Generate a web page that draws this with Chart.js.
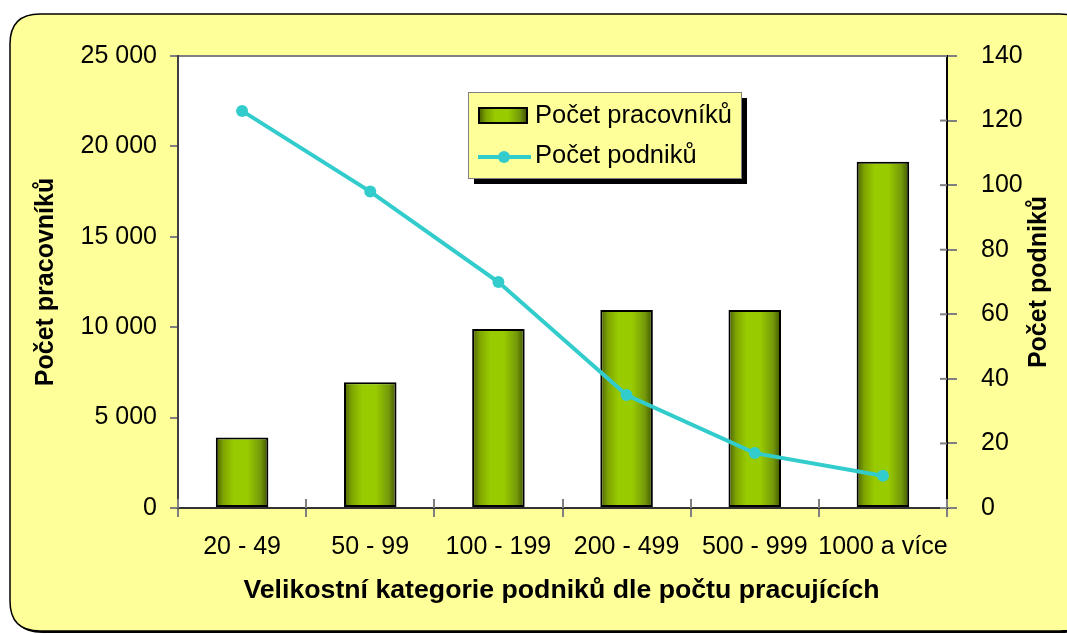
<!DOCTYPE html>
<html>
<head>
<meta charset="utf-8">
<script src="https://cdn.jsdelivr.net/npm/chart.js@4/dist/chart.umd.min.js"></script>
<style>
  html, body { margin: 0; padding: 0; background: #fff; }
  #wrap { width: 1067px; height: 634px; position: relative; }
</style>
</head>
<body>
<div id="wrap"><canvas id="sizeChart"></canvas></div>
<script>
const categories = ['20 - 49', '50 - 99', '100 - 199', '200 - 499', '500 - 999', '1000 a více'];
const workers = [3900, 6950, 9900, 10950, 10950, 19150];
const companies = [123, 98, 70, 35, 17, 10];
const workerTicks = [0, 5000, 10000, 15000, 20000, 25000];
const companyTicks = [0, 20, 40, 60, 80, 100, 120, 140];

const FONT = '"Liberation Sans", Arial, sans-serif';
const barPct = 0.41;
const lineColor = '#33CCCC';

const fmt = v => String(v).replace(/\B(?=(\d{3})+(?!\d))/g, ' ');

function barGradient(c, x0, x1) {
  const g = c.createLinearGradient(x0, 0, x1, 0);
  g.addColorStop(0, '#4a5f00');
  g.addColorStop(0.15, '#7fa600');
  g.addColorStop(0.35, '#99cc00');
  g.addColorStop(0.6, '#99cc00');
  g.addColorStop(0.85, '#74990a');
  g.addColorStop(1, '#3f5200');
  return g;
}

function roundRect(c, x, y, w, h, r) {
  c.beginPath();
  c.moveTo(x + r, y);
  c.lineTo(x + w - r, y);
  c.quadraticCurveTo(x + w, y, x + w, y + r);
  c.lineTo(x + w, y + h - r);
  c.quadraticCurveTo(x + w, y + h, x + w - r, y + h);
  c.lineTo(x + r, y + h);
  c.quadraticCurveTo(x, y + h, x, y + h - r);
  c.lineTo(x, y + r);
  c.quadraticCurveTo(x, y, x + r, y);
  c.closePath();
}

// yellow panel + white plot area
const backdrop = {
  id: 'backdrop',
  beforeDraw(chart) {
    const c = chart.ctx, a = chart.chartArea;
    c.save();
    c.fillStyle = '#000';
    roundRect(c, 12, 16, 1080, 617, 30);
    c.fill();
    c.fillStyle = '#FFFF99';
    c.strokeStyle = '#000';
    c.lineWidth = 1.5;
    roundRect(c, 10, 14, 1080, 617, 30);
    c.fill();
    c.stroke();
    c.fillStyle = '#fff';
    c.fillRect(a.left, a.top, a.right - a.left, a.bottom - a.top);
    c.strokeStyle = '#808080';
    c.lineWidth = 2;
    c.beginPath();
    c.moveTo(a.left - 8, a.top);
    c.lineTo(a.right + 10, a.top);
    c.stroke();
    c.restore();
  }
};

// crossing tick marks, titles and legend
const decor = {
  id: 'decor',
  afterDraw(chart) {
    const c = chart.ctx, a = chart.chartArea;
    const y1 = chart.scales.y1;
    c.save();
    c.strokeStyle = '#808080';
    c.lineWidth = 2;
    const step = (a.right - a.left) / categories.length;
    for (let i = 0; i <= categories.length; i++) {
      const px = Math.round(a.left + i * step);
      c.beginPath();
      c.moveTo(px, a.bottom - 9);
      c.lineTo(px, a.bottom);
      c.stroke();
    }
    companyTicks.forEach(v => {
      const py = y1.getPixelForValue(v);
      c.beginPath();
      c.moveTo(a.right - 7, py);
      c.lineTo(a.right, py);
      c.stroke();
    });

    // axis titles
    c.fillStyle = '#000';
    c.textAlign = 'center';
    c.textBaseline = 'middle';
    c.font = 'bold 26.7px ' + FONT;
    c.fillText('Velikostní kategorie podniků dle počtu pracujících', (a.left + a.right) / 2 - 1, 591);
    c.font = 'bold 25px ' + FONT;
    const midY = (a.top + a.bottom) / 2;
    c.save();
    c.translate(46, midY);
    c.rotate(-Math.PI / 2);
    c.fillText('Počet pracovníků', 0, 0);
    c.restore();
    c.save();
    c.translate(1039, midY);
    c.rotate(-Math.PI / 2);
    c.fillText('Počet podniků', 0, 0);
    c.restore();

    // legend
    const lx = a.left + 290, ly = 92, lw = 273, lh = 86;
    c.fillStyle = '#000';
    c.fillRect(lx + 6, ly + 6, lw, lh);
    c.fillStyle = '#FFFF99';
    c.fillRect(lx, ly, lw, lh);
    c.strokeStyle = '#808080';
    c.lineWidth = 1;
    c.strokeRect(lx + 0.5, ly + 0.5, lw, lh);

    const ds = chart.data.datasets;
    c.fillStyle = barGradient(c, lx + 11, lx + 59);
    c.fillRect(lx + 11, ly + 16, 48, 15);
    c.strokeStyle = '#000';
    c.lineWidth = 2;
    c.strokeRect(lx + 11, ly + 16, 48, 15);

    c.strokeStyle = lineColor;
    c.lineWidth = 4;
    c.beginPath();
    c.moveTo(lx + 10, ly + 65);
    c.lineTo(lx + 63, ly + 65);
    c.stroke();
    c.fillStyle = lineColor;
    c.beginPath();
    c.arc(lx + 36, ly + 65, 6, 0, Math.PI * 2);
    c.fill();

    c.fillStyle = '#000';
    c.font = '25.5px ' + FONT;
    c.textAlign = 'left';
    c.fillText(ds[1].label, lx + 67, ly + 24);
    c.fillText(ds[0].label, lx + 67, ly + 64);
    c.restore();
  }
};

new Chart(document.getElementById('sizeChart'), {
  type: 'bar',
  data: {
    labels: categories,
    datasets: [
      {
        type: 'line',
        label: 'Počet podniků',
        data: companies,
        yAxisID: 'y1',
        borderColor: lineColor,
        backgroundColor: lineColor,
        borderWidth: 4,
        pointRadius: 6,
        pointBorderWidth: 0,
        pointBackgroundColor: lineColor,
        tension: 0,
        order: 0,
      },
      {
        type: 'bar',
        label: 'Počet pracovníků',
        data: workers,
        yAxisID: 'y',
        borderColor: '#000',
        borderWidth: 2,
        borderSkipped: false,
        categoryPercentage: 1,
        barPercentage: barPct,
        backgroundColor: ctx => {
          const chart = ctx.chart;
          if (!chart.chartArea || ctx.type !== 'data') return '#99cc00';
          const xs = chart.scales.x;
          const cx = xs.getPixelForValue(ctx.dataIndex);
          const w = (xs.width / categories.length) * barPct;
          return barGradient(chart.ctx, cx - w / 2, cx + w / 2);
        },
        order: 1,
      },
    ],
  },
  options: {
    responsive: true,
    maintainAspectRatio: false,
    animation: false,
    layout: { padding: { top: 56, right: 0, left: 0, bottom: 0 } },
    plugins: {
      legend: { display: false },
      tooltip: { enabled: false },
    },
    scales: {
      x: {
        offset: true,
        afterFit: s => { s.height = 126; },
        grid: { offset: true, drawOnChartArea: false, tickLength: 9, color: '#808080', lineWidth: 2 },
        border: { color: '#333', width: 2 },
        ticks: { color: '#000', font: { family: FONT, size: 25 }, padding: 15, maxRotation: 0, minRotation: 0, autoSkip: false },
      },
      y: {
        position: 'left',
        min: 0,
        max: 25000,
        afterFit: s => { s.width = 178; },
        afterBuildTicks: s => { s.ticks = workerTicks.map(v => ({ value: v })); },
        grid: { drawOnChartArea: false, tickLength: 8, color: '#808080', lineWidth: 2 },
        border: { color: '#404040', width: 2 },
        ticks: { color: '#000', font: { family: FONT, size: 25 }, padding: 13, callback: v => fmt(v) },
      },
      y1: {
        position: 'right',
        min: 0,
        max: 140,
        afterFit: s => { s.width = 120; },
        afterBuildTicks: s => { s.ticks = companyTicks.map(v => ({ value: v })); },
        grid: { drawOnChartArea: false, tickLength: 10, color: '#808080', lineWidth: 2 },
        border: { color: '#000', width: 2 },
        ticks: { color: '#000', font: { family: FONT, size: 25 }, padding: 24 },
      },
    },
  },
  plugins: [backdrop, decor],
});
</script>
</body>
</html>
